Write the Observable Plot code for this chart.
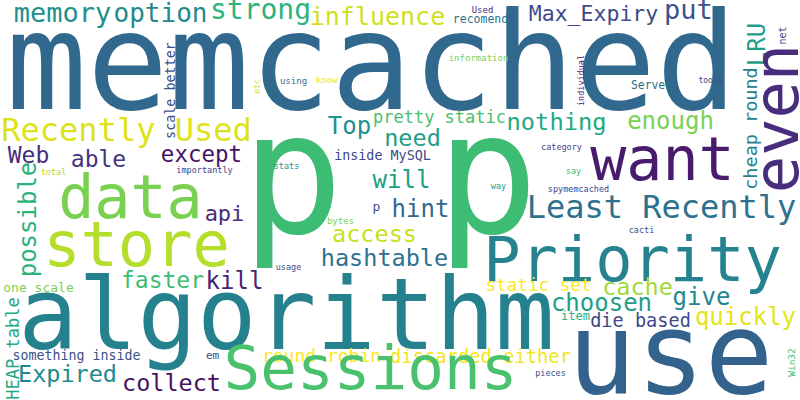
<!DOCTYPE html>
<html><head><meta charset="utf-8">
<script src="https://cdn.jsdelivr.net/npm/d3@7"></script>
<script src="https://cdn.jsdelivr.net/npm/@observablehq/plot@0.6"></script>
<style>body{margin:0;background:#fff}</style>
</head><body><div id="chart"></div>
<script>
const words = ["memcached","p","p","memory","option","strong","influence","Used","recomend","Max_Expiry","put","LRU","net","even","cheap round","information","individual","tools","Server","know","using","etc","scale better","Recently Used","Top","pretty static","nothing","enough","need","Web","able","except","inside MySQL","category","want","total","importantly","stats","say","data","possible","will","way","spymemcached","Least Recently","api","p","hint","bytes","store","access","cacti","Priority","hashtable","usage","faster","kill","one scale","static set","cache","give","algorithm","choosen","HEAP table","quickly","item","die based","something inside","em","round robin","discarded either","Sessions","Expired","collect","use","pieces","Win32"];
const xs = [371,292,487,62,160,260,377,482,480,593,688,757,782,778,751,478,581,710,651,326,293,257,170,126,349,439,556,670,412,28,98,201,382,561,662,53,204,286,573,130,28,401,498,578,661,224,376,420,340,136,374,641,632,384,288,162,234,38,538,637,701,286,601,13,745,575,640,76,212,321,480,370,67,171,670,550,791];
const ys = [65,178,178,13,13,10,16,10,19,14,10,44,35,118,128,58,80,80,85,80,81,86,90,130,126,117,122,121,138,155,159,154,155,147,160,172,170,166,171,198,219,180,186,189,207,213,206,209,221,246,234,230,261,258,267,280,281,287,285,287,297,317,303,348,317,316,321,355,355,356,356,369,374,383,356,373,362];
const sizes = [135,170,170,27,26,28,25,9,11.5,21.5,27,24,10,62,18.5,9,8.5,8,11.4,9,9,8,13.4,32,24,17,23.7,24,23.5,23,23,22.5,13.4,8.5,60,8.5,8.5,8.5,8.5,60,24,24,8.5,8.5,32,22,13,24,9,62,23.5,8.5,62,23.5,8.5,23,24,13,17.6,23.5,24,99,24,17,24,12,18.6,13.3,11,18,18.8,61,23.5,23.5,114,8.5,9.5];
const rotations = [0,0,0,0,0,0,0,0,0,0,0,-90,-90,-90,-90,0,-90,0,0,0,0,-90,-90,0,0,0,0,0,0,0,0,0,0,0,0,0,0,0,0,0,-90,0,0,0,0,0,0,0,0,0,0,0,0,0,0,0,0,0,0,0,0,0,0,-90,0,0,0,0,0,0,0,0,0,0,0,0,-90];
const colors = ["#31688e","#3dbc74","#3dbc74","#21908d","#23898e","#2eb37c","#d0e11c","#46337e","#2c728e","#3e4a89","#3b528b","#1f9e89","#3e4989","#472d7b","#26828e","#7ad151","#482475","#414487","#2c728e","#e5e419","#3b6a8f","#d8e219","#3b528b","#dde318","#21918c","#4ac16d","#22a884","#7ad151","#1f9e89","#472d7b","#46337e","#471365","#3e4a89","#404688","#481b6d","#b5de2b","#414487","#21918c","#3dbc74","#7ad151","#2db27d","#1f9e89","#20a386","#414487","#2c728e","#472c7a","#3b528b","#31688e","#7ad151","#b5de2b","#c8e020","#3b528b","#26828e","#2c728e","#3e4989","#3dbc74","#482475","#7ad151","#fde725","#a0da39","#23888e","#26818e","#1f9e89","#22a884","#e5e419","#29af7f","#3e4989","#3b528b","#3e4989","#fde725","#f1e51d","#4ac16d","#23898e","#471063","#33638d","#3b528b","#3dbc74"];

const data = words.map((w, i) => ({w, x: xs[i], y: ys[i], s: sizes[i], r: rotations[i], c: colors[i]}));

const chart = Plot.plot({
  width: 800, height: 400,
  margin: 0,
  x: {domain: [0, 800], range: [0, 800], axis: null},
  y: {domain: [0, 400], range: [0, 400], axis: null},
  style: {background: "#fff"},
  marks: [
    Plot.text(data, {x: "x", y: "y", text: "w", fontSize: "s", rotate: "r", fill: "c", fontFamily: "DejaVu Sans Mono"})
  ]
});
document.getElementById("chart").append(chart);
</script>
</body></html>
